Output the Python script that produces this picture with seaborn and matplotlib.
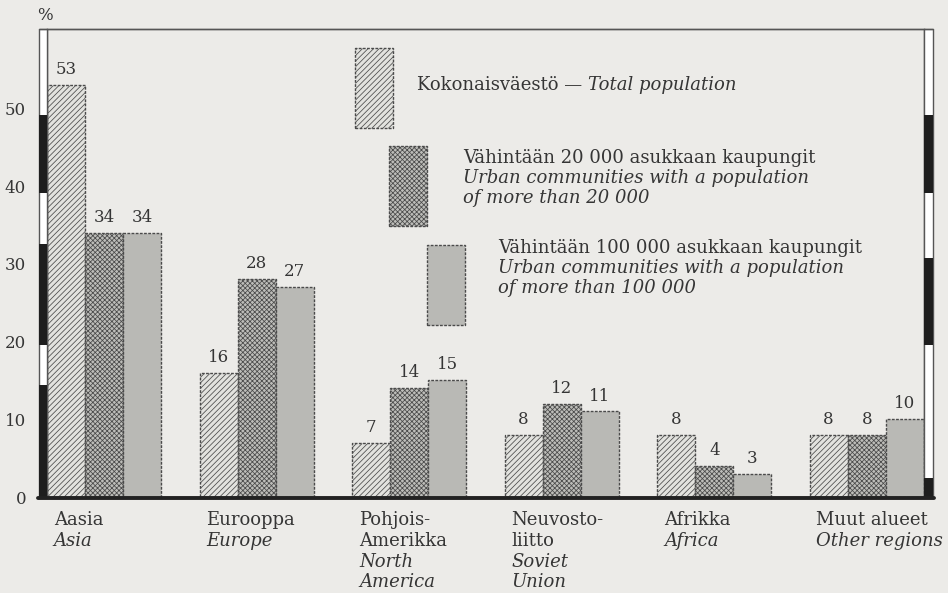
import pandas as pd
import matplotlib.pyplot as plt
import seaborn as sns
from matplotlib.patches import Rectangle
from matplotlib.lines import Line2D
from matplotlib.transforms import blended_transform_factory

regions_fi = ["Aasia", "Eurooppa", "Pohjois-\nAmerikka", "Neuvosto-\nliitto", "Afrikka", "Muut alueet"]
regions_en = ["Asia", "Europe", "North\nAmerica", "Soviet\nUnion", "Africa", "Other regions"]
total_pop = [53, 16, 7, 8, 8, 8]
urban_20k = [34, 28, 14, 12, 4, 8]
urban_100k = [34, 27, 15, 11, 3, 10]
series_keys = ["total", "20k", "100k"]
legend_fi = ["Kokonaisväestö — ", "Vähintään 20 000 asukkaan kaupungit",
             "Vähintään 100 000 asukkaan kaupungit"]
legend_en = ["Total population", "Urban communities with a population\nof more than 20 000",
             "Urban communities with a population\nof more than 100 000"]
yticks = [0, 10, 20, 30, 40, 50]

BG = "#ecebe8"
INK = "#353535"
W, H = 948, 593

df = pd.DataFrame({
    "region": regions_fi * 3,
    "series": sum([[k] * len(regions_fi) for k in series_keys], []),
    "value": total_pop + urban_20k + urban_100k,
})

sns.set_style("white")
plt.rcParams["font.family"] = ["DejaVu Serif"]
plt.rcParams["hatch.linewidth"] = 0.55

fig = plt.figure(figsize=(W / 100, H / 100), dpi=100, facecolor=BG)
ax = fig.add_axes([47 / W, 1 - 497 / H, (924 - 47) / W, (497 - 29) / H])
ax.set_facecolor(BG)

sns.barplot(data=df, x="region", y="value", hue="series", hue_order=series_keys,
            width=0.75, gap=0, legend=False, ax=ax,
            palette=["#dcdcd8", "#b4b4b0", "#bdbdb9"])

styles = [("#e2e2de", "//////"), ("#bdbdb9", "xxxxxxx"), ("#b9b9b5", None)]
for cont, (fc, hatch) in zip(ax.containers, styles):
    for bar in cont:
        bar.set_facecolor(fc)
        bar.set_edgecolor("#4a4a4a")
        bar.set_linewidth(1.0)
        bar.set_linestyle((0, (2, 1)))
        if hatch:
            bar.set_hatch(hatch)
    ax.bar_label(cont, padding=5, fontsize=12, color=INK)

ax.set_xlim(-0.375, 5.375)
ax.set_ylim(0, 60.2)
ax.set_yticks(yticks)
ax.set_yticklabels([str(t) for t in yticks], fontsize=12, color=INK)
ax.tick_params(axis="y", length=0, pad=15)
ax.set_xticks(range(len(regions_fi)))
ax.set_xticklabels([])
ax.tick_params(axis="x", length=0)
ax.set_xlabel("")
ax.set_ylabel("")
for side in ["top", "right", "left"]:
    ax.spines[side].set_color("#555555")
    ax.spines[side].set_linewidth(1.0)
ax.spines["bottom"].set_visible(False)

# category labels: Finnish regular lines, English italic lines below
xform = blended_transform_factory(ax.transData, ax.transAxes)
for i, (fi, en) in enumerate(zip(regions_fi, regions_en)):
    lines = [(s, "normal") for s in fi.split("\n")] + [(s, "italic") for s in en.split("\n")]
    for k, (s, st) in enumerate(lines):
        ax.annotate(s, (i - 0.33, 0), xycoords=xform, xytext=(0, -20.5 - 14.8 * k),
                    textcoords="offset points", ha="left", va="baseline", fontsize=13,
                    color=INK, style=st, annotation_clip=False)

# side strips with dark segments (page margin marks)
strip = blended_transform_factory(fig.transFigure, ax.transData)
left_dark = [(0, 14.4), (19.6, 32.6), (39.1, 49.2)]
right_dark = [(0, 2.5), (19.6, 30.7), (39.1, 49.2)]
for (xa, xb), segs in [((39, 47), left_dark), ((924, 933), right_dark)]:
    fig.add_artist(Rectangle((xa / W, 0), (xb - xa) / W, 60.2, transform=strip,
                             facecolor="white", edgecolor="#555555", lw=1.0, clip_on=False))
    for lo, hi in segs:
        fig.add_artist(Rectangle((xa / W, lo), (xb - xa) / W, hi - lo, transform=strip,
                                 facecolor="#1e1e1e", edgecolor="none", clip_on=False))

# frame lines
fig.add_artist(Line2D([39 / W, 933 / W], [1 - 29 / H] * 2, color="#555555", lw=1.0))
fig.add_artist(Line2D([38 / W, 934 / W], [1 - 498 / H] * 2, color="#222222", lw=2.8))

fig.text(45 / W, 1 - 15 / H, "%", ha="center", va="center", fontsize=12, color=INK)

# legend boxes drawn in figure pixel space
boxes = [(355, 48), (389, 146), (427, 245)]
text_pos = [(417, 90), (463, 163), (498, 253)]
for (bx, by), (fc, hatch), fi, en, (tx, ty) in zip(boxes, styles, legend_fi, legend_en, text_pos):
    r = Rectangle((bx / W, 1 - (by + 80) / H), 38 / W, 80 / H, transform=fig.transFigure,
                  facecolor=fc, edgecolor="#4a4a4a", lw=1.0, linestyle=(0, (2, 1)))
    if hatch:
        r.set_hatch(hatch)
    fig.add_artist(r)
    t = fig.text(tx / W, 1 - ty / H, fi, ha="left", va="baseline", fontsize=13, color=INK)
    if fi.endswith(" "):
        ax.annotate(en, (1, 0), xycoords=t, xytext=(0, 0), textcoords="offset points",
                    ha="left", va="bottom", fontsize=13, color=INK, style="italic",
                    annotation_clip=False)
    else:
        for k, s in enumerate(en.split("\n")):
            fig.text(tx / W, 1 - (ty + 20 * (k + 1)) / H, s, ha="left", va="baseline",
                     fontsize=13, color=INK, style="italic")

fig.savefig("out.png", dpi=100, facecolor=BG)
